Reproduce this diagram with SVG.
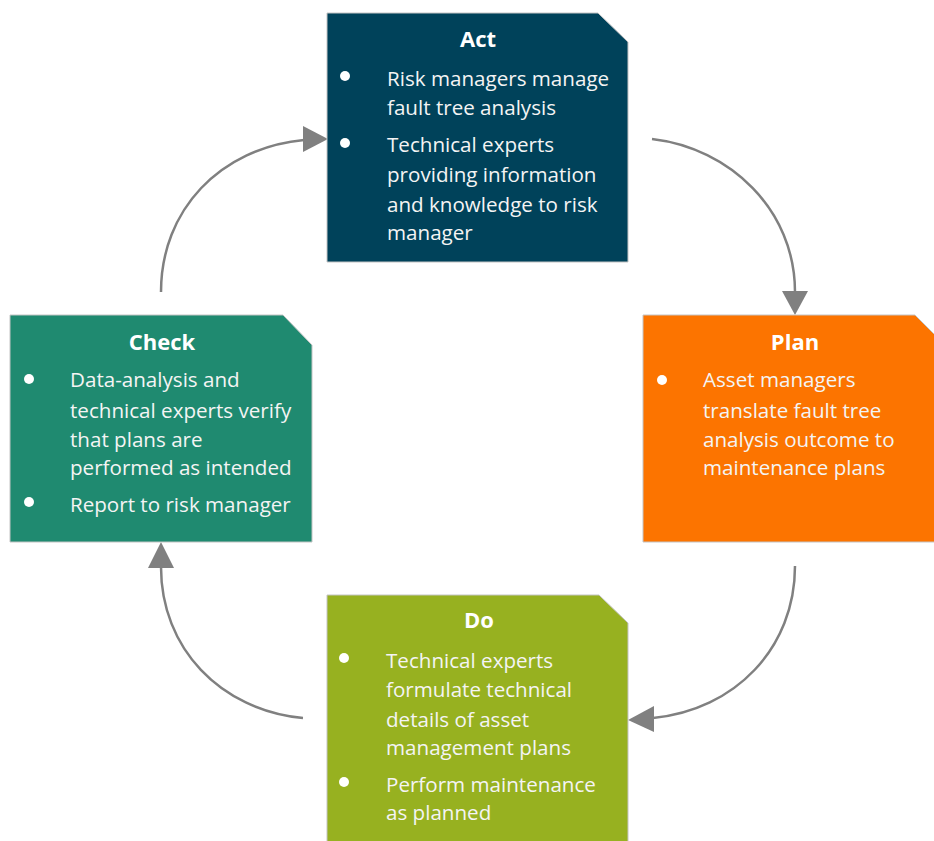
<svg xmlns="http://www.w3.org/2000/svg" width="934" height="841" viewBox="0 0 934 841">
<style>
.box{stroke:#c4c4c4;stroke-width:1}
.t{font-family:"Open Sans","Liberation Sans",sans-serif;font-size:20.6px;fill:#f4f4f4}
.h{font-family:"Open Sans","Liberation Sans",sans-serif;font-size:22px;font-weight:bold;fill:#ffffff;text-anchor:middle}
.b{fill:#ffffff}
.c{fill:none;stroke:#808080;stroke-width:2.5}
.ah{fill:#808080}
</style>
<rect width="934" height="841" fill="#ffffff"/>
<g id="connectors">
<path class="c" d="M161,292 C161,210 220,148 304,140"/>
<polygon class="ah" points="328,139 303,126 303,152"/>
<path class="c" d="M652,139 C730,148 795,210 795,292"/>
<polygon class="ah" points="795,315 782,291 808,291"/>
<path class="c" d="M795,566 C795,648 735,710 653,718"/>
<polygon class="ah" points="628,720 654,706 654,732"/>
<path class="c" d="M303,718 C220,710 161,648 161,567"/>
<polygon class="ah" points="161,542 148,568 174,568"/>
</g>
<g id="act">
<path class="box" d="M327,13 H598 L628,42 V262 H327 Z" fill="#00425A"/>
<text class="h" x="478" y="47">Act</text>
<circle class="b" cx="345" cy="76" r="5"/>
<circle class="b" cx="345" cy="143" r="5"/>
<text class="t" x="387" y="86">Risk managers manage</text>
<text class="t" x="387" y="115">fault tree analysis</text>
<text class="t" x="387" y="152">Technical experts</text>
<text class="t" x="387" y="182">providing information</text>
<text class="t" x="387" y="212">and knowledge to risk</text>
<text class="t" x="387" y="240">manager</text>
</g>
<g id="check">
<path class="box" d="M10,315 H283 L312,345 V542 H10 Z" fill="#1F8A70"/>
<text class="h" x="162" y="350">Check</text>
<circle class="b" cx="29" cy="379" r="5"/>
<circle class="b" cx="29" cy="502" r="5"/>
<text class="t" x="70" y="387">Data-analysis and</text>
<text class="t" x="70" y="418">technical experts verify</text>
<text class="t" x="70" y="447">that plans are</text>
<text class="t" x="70" y="475">performed as intended</text>
<text class="t" x="70" y="512">Report to risk manager</text>
</g>
<g id="plan">
<path class="box" d="M643,315 H915 L945,345 V542 H643 Z" fill="#FC7400"/>
<text class="h" x="795" y="350">Plan</text>
<circle class="b" cx="662" cy="380" r="5"/>
<text class="t" x="703" y="387">Asset managers</text>
<text class="t" x="703" y="418">translate fault tree</text>
<text class="t" x="703" y="447">analysis outcome to</text>
<text class="t" x="703" y="475">maintenance plans</text>
</g>
<g id="do">
<path class="box" d="M327,595 H599 L628,623 V845 H327 Z" fill="#97B120"/>
<text class="h" x="479" y="628">Do</text>
<circle class="b" cx="344" cy="658" r="5"/>
<circle class="b" cx="344" cy="782" r="5"/>
<text class="t" x="386" y="668">Technical experts</text>
<text class="t" x="386" y="697">formulate technical</text>
<text class="t" x="386" y="727">details of asset</text>
<text class="t" x="386" y="755">management plans</text>
<text class="t" x="386" y="792">Perform maintenance</text>
<text class="t" x="386" y="820">as planned</text>
</g>
</svg>
